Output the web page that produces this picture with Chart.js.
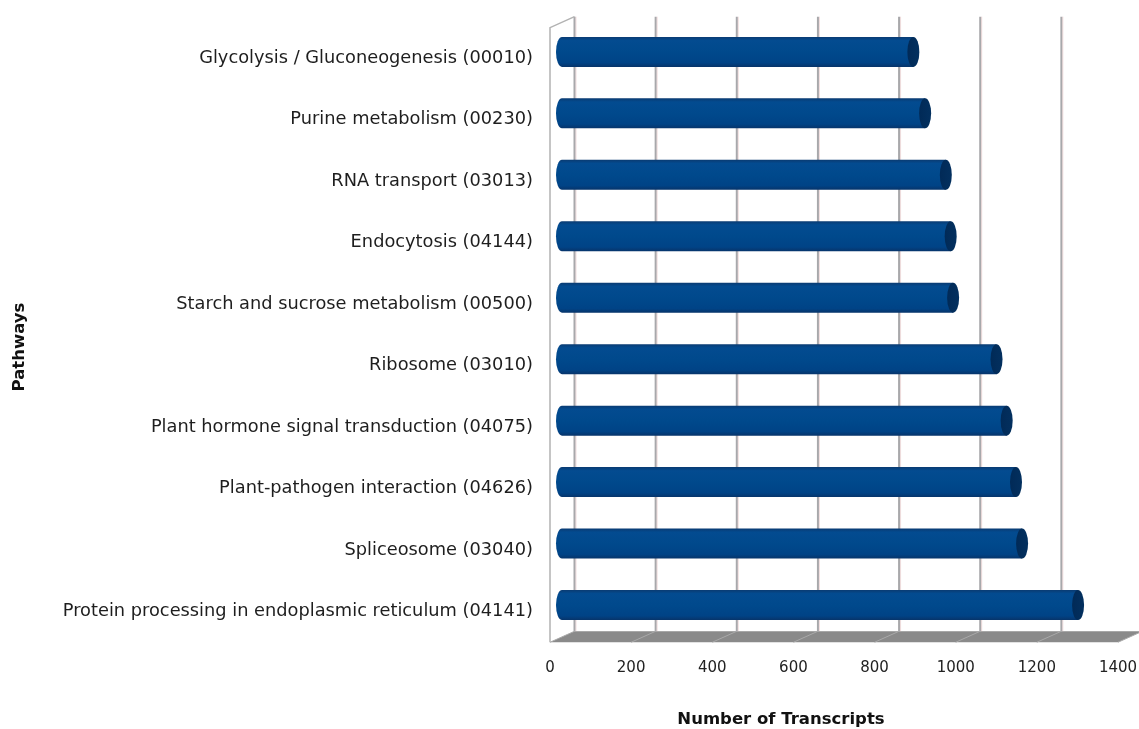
<!DOCTYPE html>
<html>
<head>
<meta charset="utf-8">
<script src="https://cdn.jsdelivr.net/npm/chart.js@4.4.1/dist/chart.umd.min.js"></script>
<style>
  html, body { margin: 0; padding: 0; background: #ffffff; }
  #wrap { width: 1139px; height: 729px; }
</style>
</head>
<body>
<div id="wrap"><canvas id="c" width="1139" height="729"></canvas></div>
<script>
// KEGG pathways and the number of transcripts mapped to each
const pathways = [
  'Glycolysis / Gluconeogenesis (00010)',
  'Purine metabolism (00230)',
  'RNA transport (03013)',
  'Endocytosis (04144)',
  'Starch and sucrose metabolism (00500)',
  'Ribosome (03010)',
  'Plant hormone signal transduction (04075)',
  'Plant-pathogen interaction (04626)',
  'Spliceosome (03040)',
  'Protein processing in endoplasmic reticulum (04141)'
];
const transcripts = [866, 895, 946, 958, 964, 1071, 1096, 1119, 1134, 1272];
const xTicks = [0, 200, 400, 600, 800, 1000, 1200, 1400];
const xTitle = 'Number of Transcripts';
const yTitle = 'Pathways';

// perspective offsets of the back wall and of the bar centre line
const DEPTH_X = 24.5, DEPTH_Y = -11;
const BAR_DX = 12, BAR_DY = -6.5;
const CAP_RX = 6;

function drawCylinder(ctx, xs, xe, yc, h) {
  const ry = h / 2, t = yc - ry;
  const body = ctx.createLinearGradient(0, t, 0, t + h);
  body.addColorStop(0, '#0a3b72');
  body.addColorStop(0.12, '#034b90');
  body.addColorStop(0.5, '#00498c');
  body.addColorStop(0.86, '#004386');
  body.addColorStop(1, '#07346a');
  ctx.beginPath();
  ctx.ellipse(xs, yc, CAP_RX, ry, 0, Math.PI / 2, Math.PI * 1.5);
  ctx.lineTo(xe, t);
  ctx.lineTo(xe, t + h);
  ctx.closePath();
  ctx.fillStyle = body;
  ctx.fill();

  const cap = ctx.createLinearGradient(xe - CAP_RX, 0, xe + CAP_RX, 0);
  cap.addColorStop(0, '#012a57');
  cap.addColorStop(1, '#03305f');
  ctx.beginPath();
  ctx.ellipse(xe, yc, CAP_RX, ry, 0, 0, Math.PI * 2);
  ctx.fillStyle = cap;
  ctx.fill();
}

const frame3d = {
  id: 'frame3d',
  beforeDatasetsDraw(chart) {
    const { ctx, chartArea: a, scales: { x } } = chart;
    const top = a.top, bot = a.bottom;
    const x0 = x.getPixelForValue(xTicks[0]);
    const x1 = x.getPixelForValue(xTicks[xTicks.length - 1]);
    ctx.save();

    // floor
    ctx.beginPath();
    ctx.moveTo(x0, bot);
    ctx.lineTo(x0 + DEPTH_X, bot + DEPTH_Y);
    ctx.lineTo(x1 + DEPTH_X, bot + DEPTH_Y);
    ctx.lineTo(x1, bot);
    ctx.closePath();
    ctx.fillStyle = '#8a8a8a';
    ctx.fill();
    ctx.strokeStyle = '#a9a9a9';
    ctx.lineWidth = 1;
    xTicks.forEach(v => {
      const px = x.getPixelForValue(v);
      ctx.beginPath();
      ctx.moveTo(px, bot);
      ctx.lineTo(px + DEPTH_X, bot + DEPTH_Y);
      ctx.stroke();
    });

    // back wall grid lines
    xTicks.forEach(v => {
      const px = x.getPixelForValue(v) + DEPTH_X;
      ctx.strokeStyle = '#a8a8ab';
      ctx.lineWidth = 2;
      ctx.beginPath();
      ctx.moveTo(px, top + DEPTH_Y);
      ctx.lineTo(px, bot + DEPTH_Y);
      ctx.stroke();
      ctx.strokeStyle = 'rgba(215,160,160,0.35)';
      ctx.lineWidth = 1;
      ctx.beginPath();
      ctx.moveTo(px + 1.5, top + DEPTH_Y);
      ctx.lineTo(px + 1.5, bot + DEPTH_Y);
      ctx.stroke();
    });

    // left side wall outline
    ctx.strokeStyle = '#b2b2b2';
    ctx.lineWidth = 1.5;
    ctx.beginPath();
    ctx.moveTo(x0, bot);
    ctx.lineTo(x0, top);
    ctx.lineTo(x0 + DEPTH_X, top + DEPTH_Y);
    ctx.stroke();

    // cylinders, placed from the bar elements laid out by the scales
    const meta = chart.getDatasetMeta(0);
    meta.data.forEach(bar => {
      const p = bar.getProps(['x', 'y', 'base', 'height'], true);
      drawCylinder(ctx, p.base + BAR_DX, p.x + BAR_DX, p.y + BAR_DY, p.height);
    });

    // axis titles
    ctx.fillStyle = '#111111';
    ctx.font = 'bold 16.5px "DejaVu Sans"';
    ctx.textAlign = 'center';
    ctx.textBaseline = 'middle';
    ctx.fillText(xTitle, 781, 720);
    ctx.translate(20, 347);
    ctx.rotate(-Math.PI / 2);
    ctx.fillText(yTitle, 0, 0);

    ctx.restore();
    return false;
  }
};

new Chart(document.getElementById('c'), {
  type: 'bar',
  data: {
    labels: pathways,
    datasets: [{
      data: transcripts,
      backgroundColor: '#004a8e',
      barThickness: 30
    }]
  },
  options: {
    indexAxis: 'y',
    responsive: false,
    animation: false,
    layout: { padding: { top: 27.25, right: 21, bottom: 0, left: 0 } },
    plugins: { legend: { display: false }, tooltip: { enabled: false } },
    scales: {
      x: {
        min: 0,
        max: 1400,
        afterBuildTicks: s => { s.ticks = xTicks.map(v => ({ value: v })); },
        afterFit: s => { s.height = 86.75; s.paddingLeft = 0; s.paddingRight = 0; },
        grid: { display: false, drawTicks: false },
        border: { display: false },
        ticks: {
          color: '#222222',
          padding: 17,
          maxRotation: 0,
          callback: v => String(v),
          font: { family: 'DejaVu Sans', size: 15 }
        }
      },
      y: {
        afterFit: s => { s.width = 550; },
        grid: { display: false, drawTicks: false },
        border: { display: false },
        ticks: {
          color: '#1e1e1e',
          padding: 17,
          autoSkip: false,
          font: { family: 'DejaVu Sans', size: 17.8 }
        }
      }
    }
  },
  plugins: [frame3d]
});
</script>
</body>
</html>
